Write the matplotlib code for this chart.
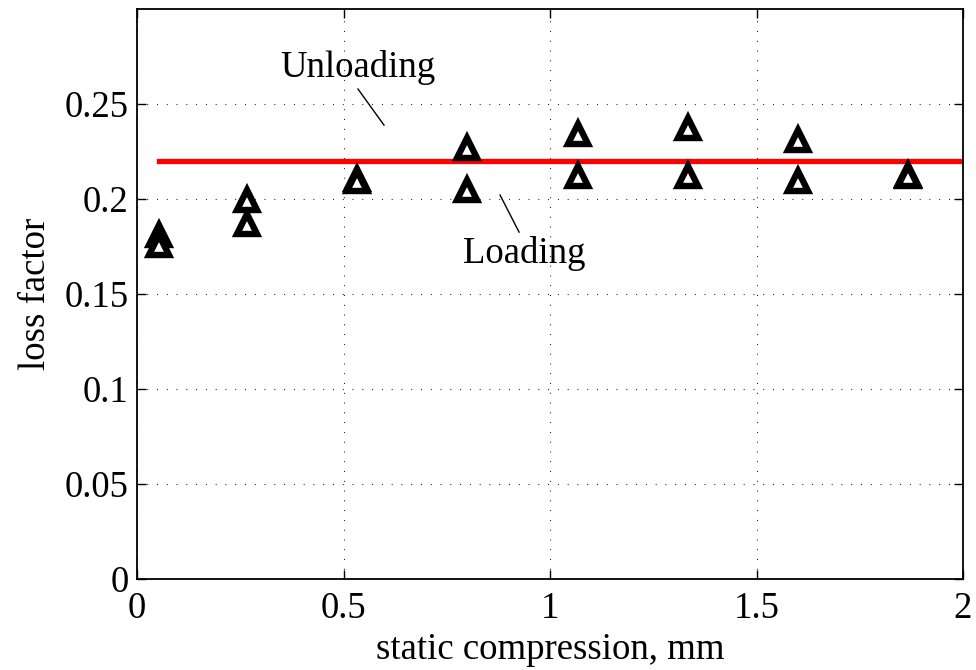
import numpy as np
import matplotlib
matplotlib.use("Agg")
import matplotlib.pyplot as plt

# Data
compression = [0.0533, 0.2667, 0.5333, 0.8, 1.0667, 1.3333, 1.6, 1.8667]  # mm
loss_unloading = [0.181, 0.1995, 0.2105, 0.227, 0.234, 0.2376, 0.231, 0.2128]
loss_loading = [0.176, 0.187, 0.2095, 0.2045, 0.212, 0.212, 0.2095, 0.2122]
mean_x = [0.0533, 2.0]
mean_loss = [0.22, 0.22]

xticks = [0, 0.5, 1, 1.5, 2]
xtick_labels = ["0", "0.5", "1", "1.5", "2"]
yticks = [0, 0.05, 0.1, 0.15, 0.2, 0.25]
ytick_labels = ["0", "0.05", "0.1", "0.15", "0.2", "0.25"]

# annotation text positions and pointer lines (data coords)
unload_text = (0.535, 0.2642)
unload_line_x = [0.535, 0.598]
unload_line_y = [0.2579, 0.2389]
load_text = (0.937, 0.1663)
load_line_x = [0.879, 0.925]
load_line_y = [0.2021, 0.1826]

plt.rcParams['font.family'] = ['Liberation Serif', 'DejaVu Serif']
fs = 26.5

fig = plt.figure(figsize=(9.76, 6.7), dpi=100)
ax = fig.add_axes([0.1404, 0.1358, 0.8463, 0.8507])

ax.plot(mean_x, mean_loss, color='red', lw=3.8, zorder=2)
ax.plot(compression, loss_unloading, linestyle='none', marker='^', ms=14,
        mfc='white', mec='black', mew=4.6, zorder=3)
ax.plot(compression, loss_loading, linestyle='none', marker='^', ms=14,
        mfc='white', mec='black', mew=4.6, zorder=3)

ax.text(unload_text[0], unload_text[1], "Unloading", ha='center', va='baseline', fontsize=fs)
ax.plot(unload_line_x, unload_line_y, color='black', lw=1)
ax.text(load_text[0], load_text[1], "Loading", ha='center', va='baseline', fontsize=fs)
ax.plot(load_line_x, load_line_y, color='black', lw=1)

ax.set_xlim(0, 2)
ax.set_ylim(0, 0.3)
ax.set_xticks(xticks)
ax.set_xticklabels(xtick_labels, fontsize=fs)
ax.set_yticks(yticks)
ax.set_yticklabels(ytick_labels, fontsize=fs)
ax.tick_params(direction='in', length=6.5, width=1, top=True, right=True)
ax.tick_params(axis='x', pad=9)
ax.tick_params(axis='y', pad=6)
for s in ax.spines.values():
    s.set_linewidth(1.3)

ax.grid(True, color='black', linestyle=(0, (0.8, 8)), linewidth=0.8)
ax.set_axisbelow(True)

ax.set_xlabel("static compression, mm", fontsize=fs, labelpad=5)
ax.set_ylabel("loss factor", fontsize=fs, labelpad=8)

fig.savefig("out.png", dpi=100)
